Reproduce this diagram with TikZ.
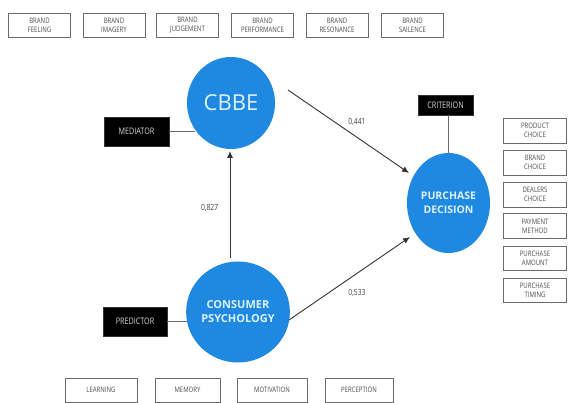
\documentclass[tikz,border=0pt]{standalone}
\usepackage{fontspec}
\setmainfont{Open Sans}
\newfontfamily\condf[FakeStretch=0.8]{Open Sans}
\usetikzlibrary{shapes.geometric,arrows.meta}
\definecolor{cblue}{HTML}{1F88E0}
\definecolor{ctext}{HTML}{DDF2FF}
\definecolor{gline}{HTML}{6A6A6A}
\tikzset{
  gbox/.style={draw=gline, line width=0.8pt, fill=white, minimum height=24pt, inner sep=0pt, align=center, font=\condf\fontsize{7.5}{9}\selectfont, text=black!70},
  bbox/.style={draw=black!80, fill=black, minimum height=29pt, inner sep=0pt, align=center, font=\condf\fontsize{9}{10}\selectfont, text=black!15},
  circ/.style={ellipse, fill=cblue, inner sep=0pt, align=center, text=ctext},
  conn/.style={draw=black!80, line width=0.9pt},
  arr/.style={conn, -{Latex[length=7pt,width=6pt]}},
  lab/.style={font=\condf\fontsize{8.5}{10}\selectfont, text=black!75}
}
\begin{document}
\begin{tikzpicture}[x=1pt,y=-1pt]
\useasboundingbox (0,0) rectangle (568,403);
% top boxes
\node[gbox, minimum width=62pt] (t1) at (39.5,25) {BRAND\\FEELING};
\node[gbox, minimum width=62pt] (t2) at (114,25) {BRAND\\IMAGERY};
\node[gbox, minimum width=62pt] (t3) at (187.5,25) {BRAND\\JUDGEMENT};
\node[gbox, minimum width=62pt] (t4) at (262.5,25) {BRAND\\PERFORMANCE};
\node[gbox, minimum width=62pt] (t5) at (337,25) {BRAND\\RESONANCE};
\node[gbox, minimum width=62pt] (t6) at (412.5,25) {BRAND\\SAILENCE};
% circles
\node[circ, minimum width=88pt, minimum height=92pt, font=\fontsize{22}{24}\selectfont] (cbbe) at (231,103) {CBBE};
\node[circ, minimum width=102pt, minimum height=101pt, font=\bfseries\fontsize{11}{14}\selectfont] (cp) at (238,312) {CONSUMER\\PSYCHOLOGY};
\node[circ, minimum width=83pt, minimum height=100pt, font=\bfseries\fontsize{10.5}{13.5}\selectfont] (pd) at (448.5,203) {PURCHASE\\DECISION};
% black boxes
\node[bbox, minimum width=65pt] (med) at (136.5,131.5) {MEDIATOR};
\node[bbox, minimum width=64pt] (pre) at (135,321.5) {PREDICTOR};
\node[bbox, minimum width=55pt, minimum height=20pt] (cri) at (445.5,105) {CRITERION};
% right boxes
\node[gbox, minimum width=63pt, minimum height=25pt] (r1) at (535,130.5) {PRODUCT\\CHOICE};
\node[gbox, minimum width=63pt, minimum height=25pt] (r2) at (535,162.5) {BRAND\\CHOICE};
\node[gbox, minimum width=63pt, minimum height=25pt] (r3) at (535,194.5) {DEALERS\\CHOICE};
\node[gbox, minimum width=63pt, minimum height=25pt] (r4) at (535,226) {PAYMENT\\METHOD};
\node[gbox, minimum width=63pt, minimum height=24pt] (r5) at (535,258.5) {PURCHASE\\AMOUNT};
\node[gbox, minimum width=63pt, minimum height=24pt] (r6) at (535,290) {PURCHASE\\TIMING};
% bottom boxes
\node[gbox, minimum width=72pt] (b1) at (101,390) {LEARNING};
\node[gbox, minimum width=65pt] (b2) at (187.5,390) {MEMORY};
\node[gbox, minimum width=70pt] (b3) at (272,390) {MOTIVATION};
\node[gbox, minimum width=68pt] (b4) at (359,390) {PERCEPTION};
% connector end points
\coordinate (a1s) at (288,90);
\coordinate (a1e) at (409,173);
\coordinate (a2s) at (289,320);
\coordinate (a2e) at (410,237);
\coordinate (a3s) at (230,258);
\coordinate (a3e) at (230,151);
% connectors
\draw[conn, draw=gline] (med.east) -- ++(26,0);
\draw[conn, draw=gline] (pre.east) -- ++(20,0);
\draw[conn, draw=gline] (pd.north |- cri.south) -- (pd.north);
\draw[arr] (a3s) -- (a3e) node[lab, pos=0.47, left=8pt] (l3) {0,827};
\draw[arr] (a1s) -- (a1e);
\draw[arr] (a2s) -- (a2e);
\node[lab] (l1) at (357,122) {0,441};
\node[lab] (l2) at (357,293) {0,533};
\end{tikzpicture}
\end{document}
